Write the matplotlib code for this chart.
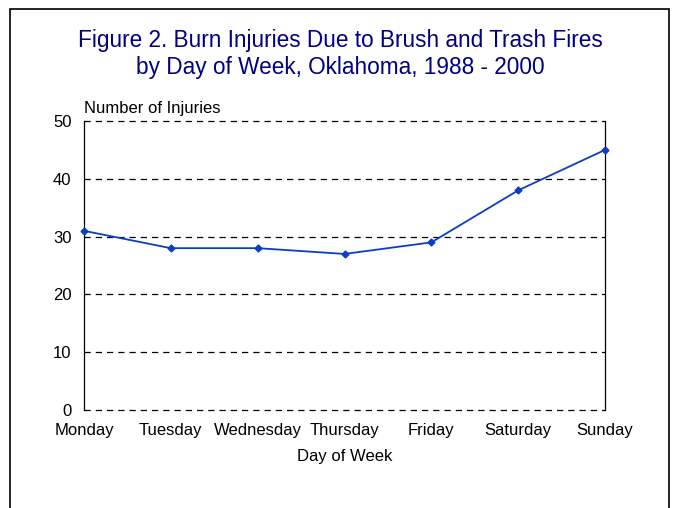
import matplotlib.pyplot as plt
from matplotlib.patches import Rectangle

plt.rcParams['font.family'] = ['Liberation Sans', 'DejaVu Sans']

days = ['Monday', 'Tuesday', 'Wednesday', 'Thursday', 'Friday', 'Saturday', 'Sunday']
injuries = [31, 28, 28, 27, 29, 38, 45]
yticks = [0, 10, 20, 30, 40, 50]

W, H = 683, 508
fig = plt.figure(figsize=(W / 100, H / 100), dpi=100)

# outer frame (runs off the bottom of the picture)
fig.patches.append(Rectangle((10 / W, -0.05), 659 / W, 1.05 - 9 / H,
                             transform=fig.transFigure, fill=False,
                             edgecolor='black', linewidth=1.2))

fig.text(340 / W, 1 - 47 / H, 'Figure 2. Burn Injuries Due to Brush and Trash Fires',
         ha='center', va='baseline', color='#000080', fontsize=16.3)
fig.text(340 / W, 1 - 74 / H, 'by Day of Week, Oklahoma, 1988 - 2000',
         ha='center', va='baseline', color='#000080', fontsize=16.3)

ax = fig.add_axes([84 / W, 1 - 410 / H, (605 - 84) / W, (410 - 121) / H])
x = list(range(len(days)))
ax.plot(x, injuries, color='#0a3fc2', linewidth=1.3, marker='D', markersize=3.5,
        clip_on=False, zorder=3)

ax.set_xlim(0, len(days) - 1)
ax.set_ylim(0, 50)
ax.set_yticks(yticks)
ax.set_xticks(x)
ax.set_xticklabels(days)
ax.tick_params(length=0, labelsize=12)
ax.tick_params(axis='y', pad=9)
ax.tick_params(axis='x', pad=9)
for yv in yticks:
    ax.axhline(yv, color='black', linestyle=(0, (5, 4)), linewidth=0.9,
               zorder=0, clip_on=False)
ax.spines['top'].set_visible(False)
ax.spines['bottom'].set_visible(False)
for s in ('left', 'right'):
    ax.spines[s].set_linewidth(0.9)

fig.text(84 / W, 1 - 113 / H, 'Number of Injuries', ha='left', va='baseline', fontsize=12)
fig.text(345 / W, 1 - 456 / H, 'Day of Week', ha='center', va='center', fontsize=12)

fig.savefig('out.png', dpi=100)
